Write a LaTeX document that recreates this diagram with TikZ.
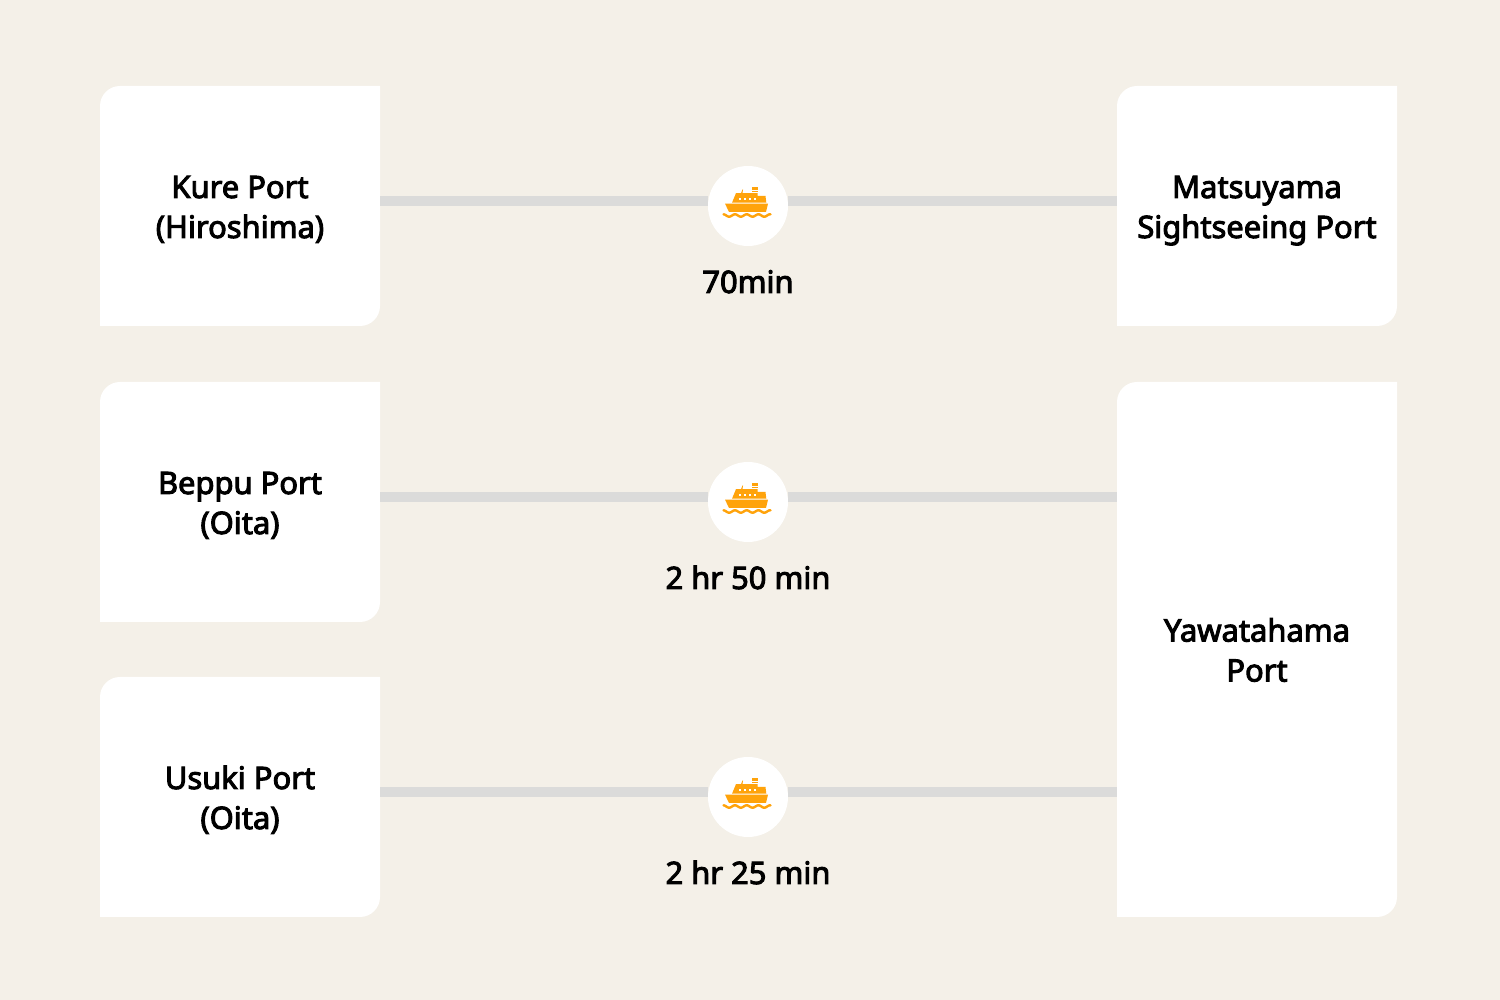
\documentclass[tikz,border=0pt]{standalone}
\usepackage{fontspec}
\newfontfamily\labelfont{Noto Sans}[FakeBold=3.2]
\definecolor{bgc}{HTML}{F4F0E8}
\definecolor{linec}{HTML}{DBDBDA}
\definecolor{shipc}{HTML}{FFA30B}
\tikzset{
  portlabel/.style={align=center,font=\labelfont\fontsize{30.9}{40}\selectfont,text=black,inner sep=0pt},
  timelabel/.style={font=\labelfont\fontsize{30.9}{40}\selectfont,text=black,inner sep=0pt,anchor=base},
  stopdisc/.style={circle,fill=white,minimum size=80pt,inner sep=0pt},
  routeline/.style={draw=linec,line width=10pt},
  slab/.style={fill=white},
}
\newcommand{\portcard}[6]{%
  \fill[slab] (#2,#3) -- (#2,#3+#5-20) arc[start angle=180,end angle=90,radius=20] -- (#2+#4,#3+#5) -- (#2+#4,#3+20) arc[start angle=0,end angle=-90,radius=20] -- (#2,#3) -- cycle;
  \node[minimum width=#4,minimum height=#5,inner sep=0pt,outer sep=0pt] (#1) at (#2+#4/2,#3+#5/2) {};
  \node[portlabel] (#1text) at (#2+#4/2,#3+#5/2-4) {#6};
}
\tikzset{shipicon/.pic={
  \fill[shipc] (-23,2.3) -- (20,2.3) -- (18,-5.9) -- (-19,-5.9) -- cycle;
  \fill[shipc] (-16,3.3) -- (-12,12.9) -- (-7,12.9) -- (-5.5,16.5) -- (-5,16.5) -- (-5.5,12.9) -- (9.5,12.9) -- (9.5,10) -- (17.5,10) -- (18.3,3.3) -- cycle;
  \fill[shipc] (3.7,13.6) rectangle (9.5,15.4);
  \fill[shipc] (3.7,16.4) rectangle (9.5,18.9);
  \foreach \wx in {-8,-3,2,7} {\fill[white] (\wx-1,6) rectangle (\wx+1,8);}
  \draw[shipc,line width=2.4pt,line cap=round] plot[domain=-24.5:22.5,samples=80,smooth] (\x,{-9.5+1.2*sin(\x*360/11.7+130)});
}}
\begin{document}
\begin{tikzpicture}[x=1pt,y=1pt]
\useasboundingbox (0,0) rectangle (1500,1000);
\fill[bgc] (0,0) rectangle (1500,1000);
\portcard{kure}{100}{674}{280}{240}{\strut Kure Port\\\strut (Hiroshima)}
\portcard{beppu}{100}{378}{280}{240}{\strut Beppu Port\\\strut (Oita)}
\portcard{usuki}{100}{83}{280}{240}{\strut Usuki Port\\\strut (Oita)}
\portcard{mats}{1117}{674}{280}{240}{\strut Matsuyama\\\strut Sightseeing Port}
\portcard{yawa}{1117}{83}{280}{535}{\strut Yawatahama\\\strut Port}
\node[stopdisc] (f1) at (748,794) {};
\node[stopdisc] (f2) at (748,498) {};
\node[stopdisc] (f3) at (748,203) {};
\begin{scope}[transform canvas={yshift=5pt}]
\draw[routeline] (kure.east) -- (f1.west);
\draw[routeline] (f1.east) -- (mats.west);
\draw[routeline] (beppu.east) -- (f2.west);
\draw[routeline] (f2.east) -- (f2.east -| yawa.west);
\draw[routeline] (usuki.east) -- (f3.west);
\draw[routeline] (f3.east) -- (f3.east -| yawa.west);
\end{scope}
\path (f1) pic {shipicon};
\path (f2) pic {shipicon};
\path (f3) pic {shipicon};
\node[timelabel] (t1) at (748,707) {70min};
\node[timelabel] (t2) at (748,411) {2 hr 50 min};
\node[timelabel] (t3) at (748,116) {2 hr 25 min};
\end{tikzpicture}
\end{document}
